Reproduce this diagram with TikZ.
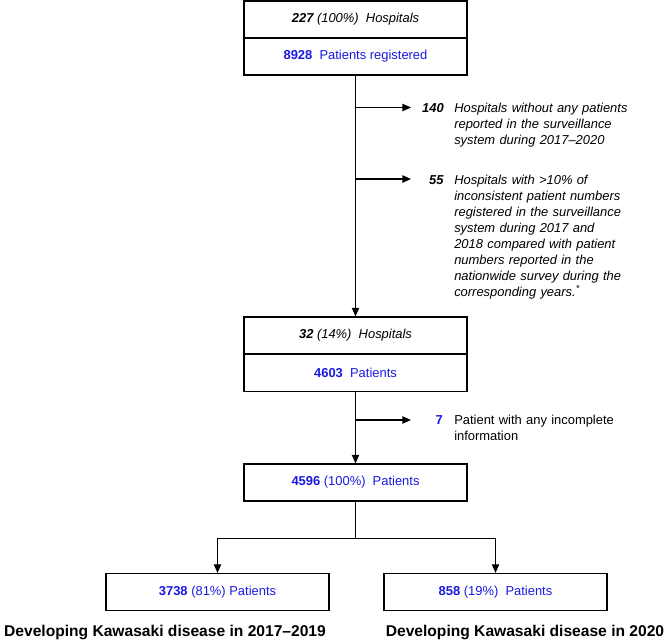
\documentclass[tikz,border=0pt]{standalone}
\usepackage{fontspec}
\setmainfont{Liberation Sans}
\usetikzlibrary{arrows.meta}
\definecolor{numblue}{RGB}{25,25,225}

\begin{document}
\begin{tikzpicture}[x=0.75pt,y=-0.75pt,
    box/.style={draw,line width=1pt,minimum width=167.25pt,minimum height=27.6pt,
        inner sep=0pt,font=\fontsize{9.7}{12}\selectfont},
    num/.style={inner sep=0pt,font=\fontsize{9.7}{12}\selectfont},
    note/.style={inner sep=0pt,text width=160pt,align=left,font=\fontsize{9.7}{12}\selectfont},
    lab/.style={inner sep=0pt,font=\fontsize{11.7}{14}\selectfont\bfseries},
    arr/.style={-{Triangle[length=6.5pt,width=5.5pt]},line width=1pt}]
            \useasboundingbox (0,0) rectangle (666,642);
            \node[box] (1) at (355.5,19.5) {\textit{\textbf{227} (100\%)~ Hospitals}};
            \node[box] (2) at (355.5,56.5) {\color{numblue}\textbf{8928}~ Patients registered};
            \node[box] (3) at (355.5,335.5) {\textit{\textbf{32} (14\%)~ Hospitals}};
            \node[box] (4) at (355.5,373) {\color{numblue}\textbf{4603}~ Patients};
            \node[box] (5) at (355.5,482.5) {\color{numblue}\textbf{4596} (100\%)~ Patients};
            \node[box] (6) at (217.5,592) {\color{numblue}\textbf{3738} (81\%) Patients};
            \node[box] (7) at (495.5,592) {\color{numblue}\textbf{858} (19\%)~ Patients};
            % excluded
            \node[num,anchor=base east] (8) at (444,112) {\textit{\textbf{140}}};
            \node[note,anchor=base west] (9) at (454,112) {\textit{Hospitals without any patients\\
                reported in the surveillance\\ system during 2017--2020}};
            \node[num,anchor=base east] (10) at (444,184) {\textit{\textbf{55}}};
            \node[note,anchor=base west] (11) at (454,184) {\textit{Hospitals with >10\% of\\
                inconsistent patient numbers\\ registered in the surveillance\\
                system during 2017 and\\ 2018 compared with patient\\
                numbers reported in the\\ nationwide survey during the\\
                corresponding years.\textsuperscript{*}}};
            \node[num,anchor=base east] (12) at (443,424.5) {\color{numblue}\textbf{7}};
            \node[note,anchor=base west] (13) at (454,424.5) {Patient with any incomplete\\ information};
            \node[lab,anchor=base] (14) at (165,636) {Developing Kawasaki disease in 2017--2019};
            \node[lab,anchor=base] (15) at (525,636) {Developing Kawasaki disease in 2020};
            \coordinate (t1) at (411,107.5);
            \coordinate (t2) at (411,179);
            \coordinate (t3) at (411,420);
            \draw[line width=1pt] (1.south west) -- (1.south east);
            \draw[line width=1pt] (3.south west) -- (3.south east);
            \draw[arr]  (2) -- (3);
            \draw[arr]  (2.south |- t1) -- (t1);
            \draw[arr]  (2.south |- t2) -- (t2);
            \draw[arr]  (4) -- (5);
            \draw[arr]  (4.south |- t3) -- (t3);
            \draw[arr]  (5.south) -- ++(0,37) -| (6.north);
            \draw[arr]  (5.south) -- ++(0,37) -| (7.north);
        \end{tikzpicture}
\end{document}
